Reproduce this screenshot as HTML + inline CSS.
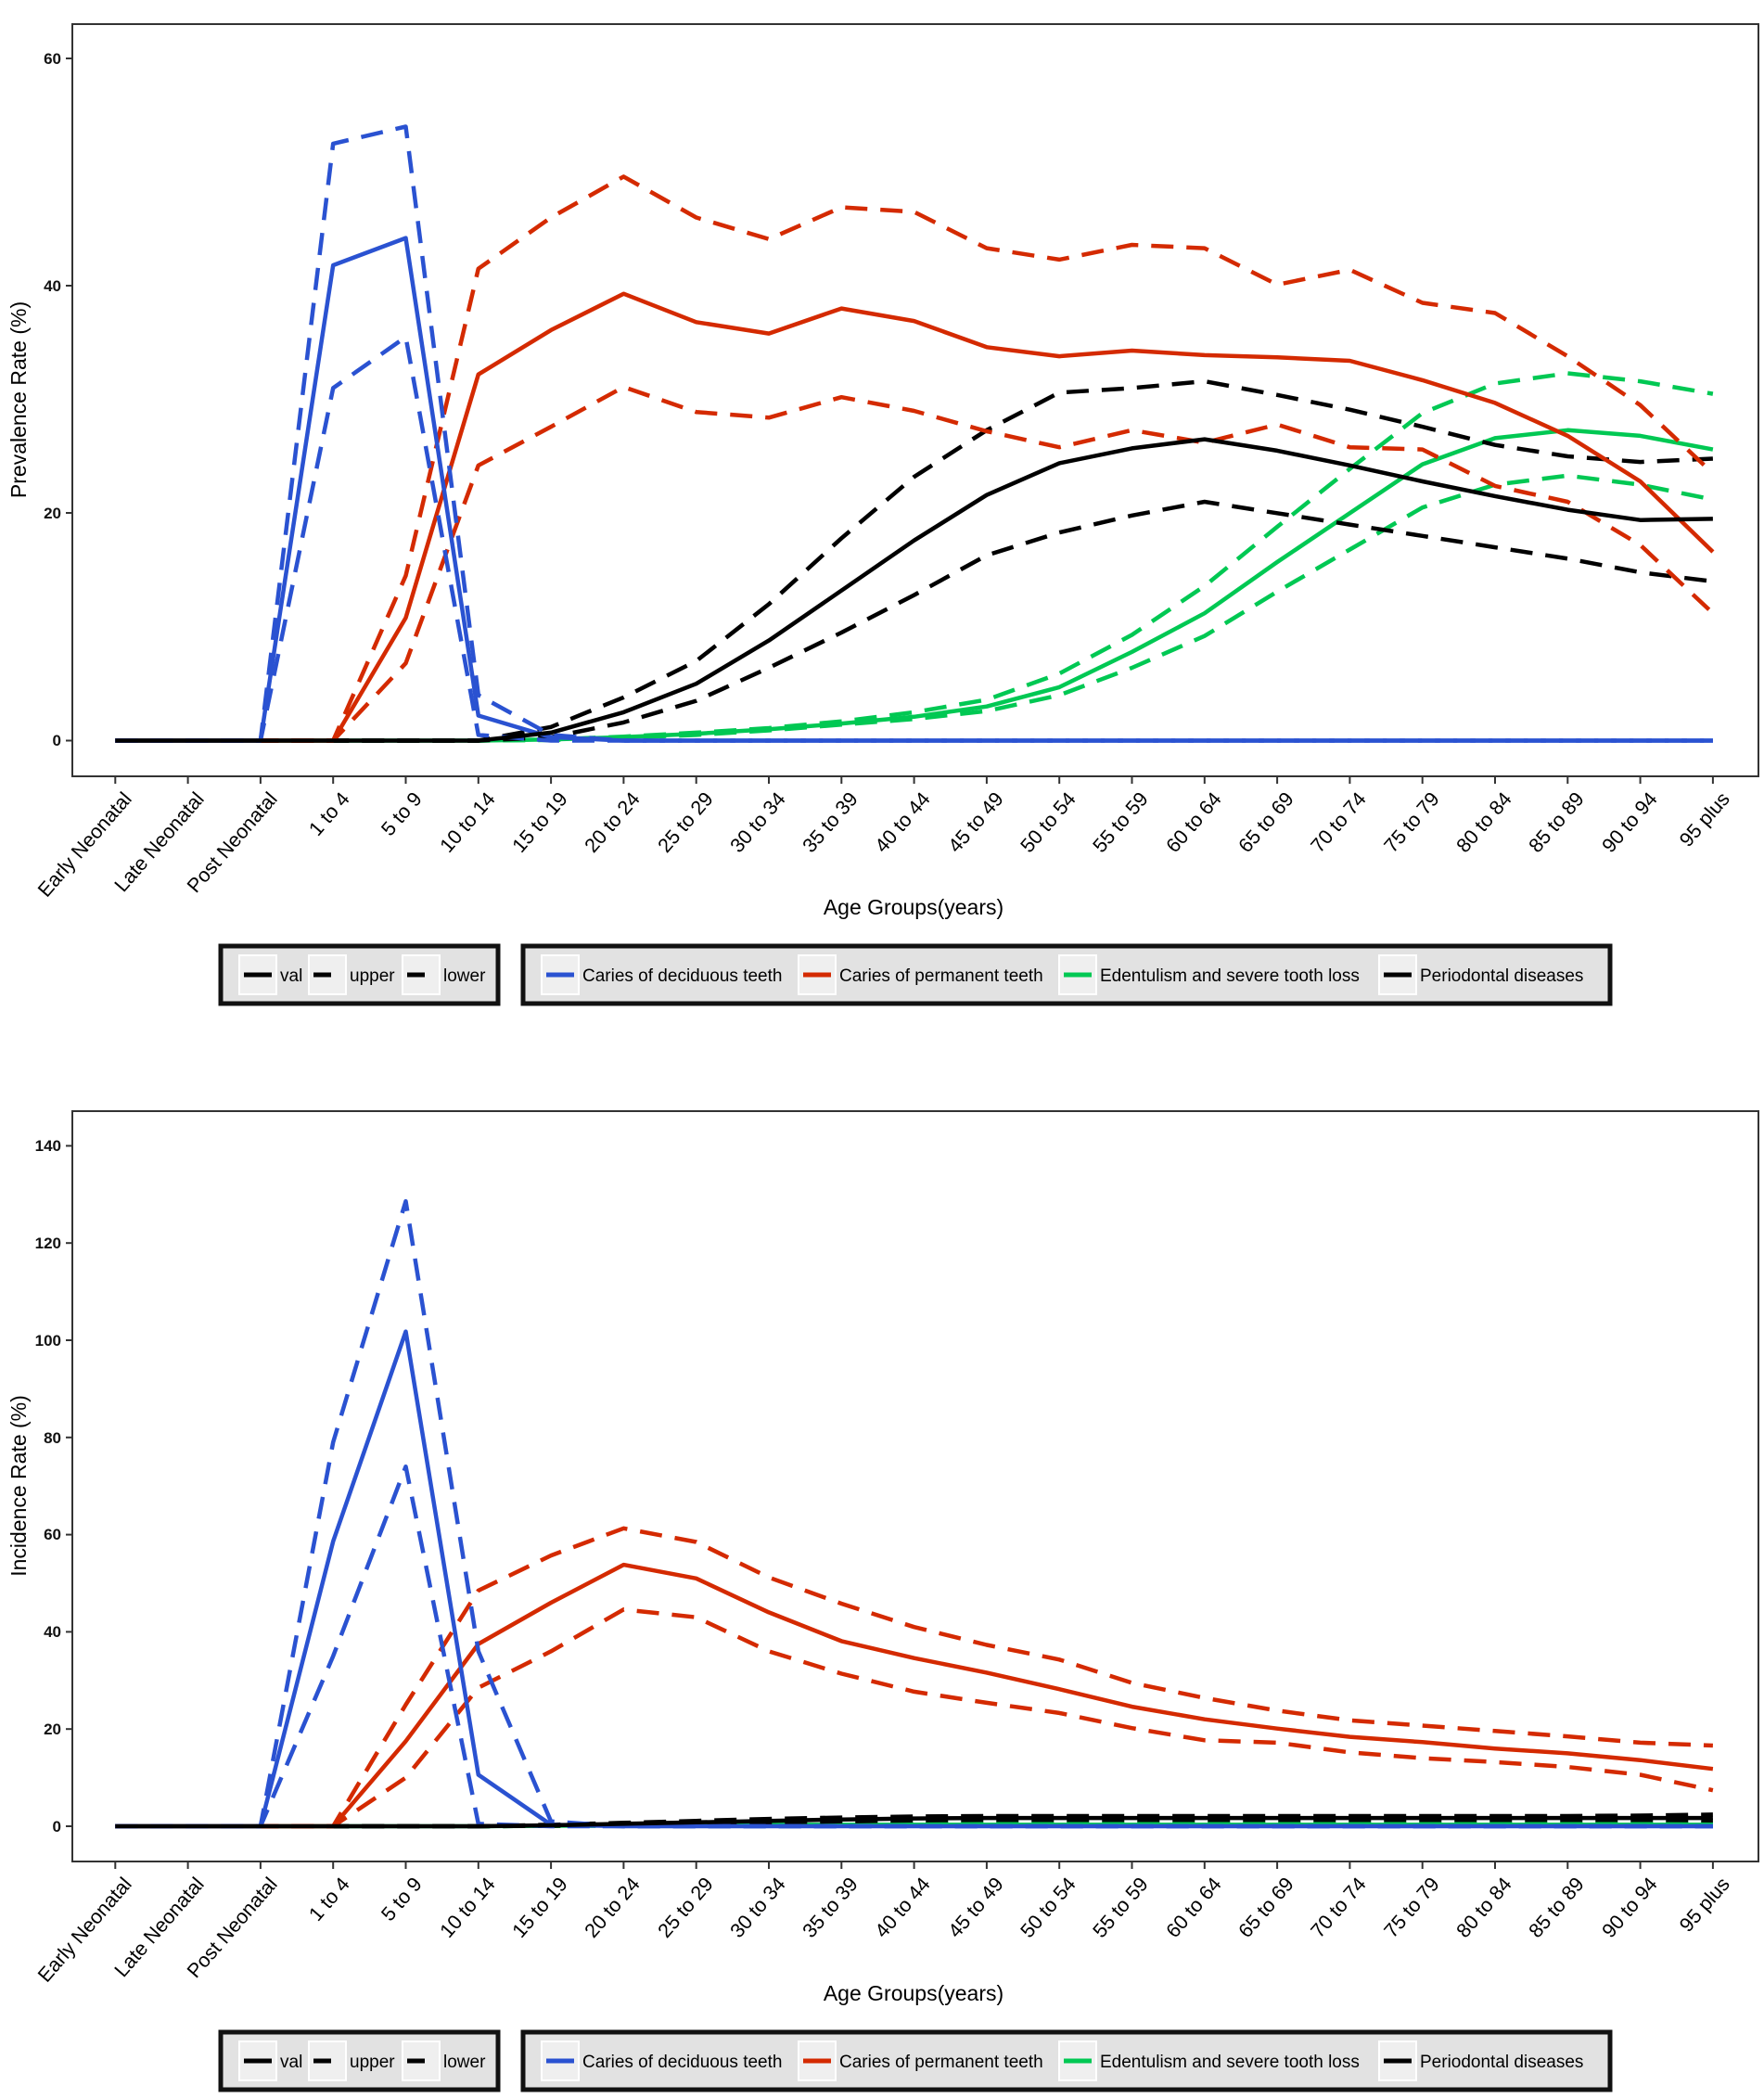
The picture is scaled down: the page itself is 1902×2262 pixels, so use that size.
<!DOCTYPE html>
<html><head><meta charset="utf-8"><style>
html,body{margin:0;padding:0;background:#fff;}
svg{display:block;font-family:"Liberation Sans",Arial,sans-serif;}
</style></head><body>
<svg id="s" width="1902" height="2262" viewBox="0 0 1902 2262" xmlns="http://www.w3.org/2000/svg">
<rect width="1902" height="2262" fill="#fff"/>
<rect x="78" y="26" width="1818" height="811" fill="none" stroke="#333" stroke-width="2"/>
<g font-size="17" font-weight="bold" text-anchor="end" fill="#111">
<text x="66" y="69">60</text><text x="66" y="314">40</text><text x="66" y="559">20</text><text x="66" y="804">0</text>
</g>
<g stroke="#333" stroke-width="2"><line x1="71" y1="63" x2="78" y2="63"/><line x1="71" y1="308" x2="78" y2="308"/><line x1="71" y1="553" x2="78" y2="553"/><line x1="71" y1="798.5" x2="78" y2="798.5"/></g>
<text x="0" y="0" font-size="23" text-anchor="middle" transform="translate(28,431) rotate(-90)">Prevalence Rate (%)</text>
<text x="985" y="986" font-size="23" text-anchor="middle">Age Groups(years)</text>
<g id="xt1"></g>
<g id="d1"></g>
<rect x="78" y="1198" width="1818" height="809" fill="none" stroke="#333" stroke-width="2"/>
<g font-size="17" font-weight="bold" text-anchor="end" fill="#111">
<text x="66" y="1241">140</text><text x="66" y="1346">120</text><text x="66" y="1451">100</text><text x="66" y="1556">80</text><text x="66" y="1660">60</text><text x="66" y="1765">40</text><text x="66" y="1870">20</text><text x="66" y="1975">0</text>
</g>
<g id="yt2" stroke="#333" stroke-width="2"></g>
<text x="0" y="0" font-size="23" text-anchor="middle" transform="translate(28,1602) rotate(-90)">Incidence Rate (%)</text>
<text x="985" y="2157" font-size="23" text-anchor="middle">Age Groups(years)</text>
<g id="xt2"></g>
<g id="d2"></g>
<g id="leg1">
<rect x="238" y="1020" width="299" height="62" fill="#e2e2e2" stroke="#111" stroke-width="5"/>
<rect x="258" y="1030" width="40" height="42" fill="#efefef" stroke="#fff" stroke-width="2"/>
<line x1="263" y1="1051" x2="293" y2="1051" stroke="#000" stroke-width="5"/>
<text x="302" y="1058" font-size="19">val</text>
<rect x="333" y="1030" width="40" height="42" fill="#efefef" stroke="#fff" stroke-width="2"/>
<line x1="338" y1="1051" x2="357" y2="1051" stroke="#000" stroke-width="5"/>
<text x="377" y="1058" font-size="19">upper</text>
<rect x="434" y="1030" width="40" height="42" fill="#efefef" stroke="#fff" stroke-width="2"/>
<line x1="439" y1="1051" x2="458" y2="1051" stroke="#000" stroke-width="5"/>
<text x="478" y="1058" font-size="19">lower</text>
<rect x="564" y="1020" width="1172" height="62" fill="#e2e2e2" stroke="#111" stroke-width="5"/>
<rect x="584" y="1030" width="40" height="42" fill="#efefef" stroke="#fff" stroke-width="2"/>
<line x1="589" y1="1051" x2="619" y2="1051" stroke="#2a52d1" stroke-width="5"/>
<text x="628" y="1058" font-size="19">Caries of deciduous teeth</text>
<rect x="861" y="1030" width="40" height="42" fill="#efefef" stroke="#fff" stroke-width="2"/>
<line x1="866" y1="1051" x2="896" y2="1051" stroke="#d42a00" stroke-width="5"/>
<text x="905" y="1058" font-size="19">Caries of permanent teeth</text>
<rect x="1142" y="1030" width="40" height="42" fill="#efefef" stroke="#fff" stroke-width="2"/>
<line x1="1147" y1="1051" x2="1177" y2="1051" stroke="#00c853" stroke-width="5"/>
<text x="1186" y="1058" font-size="19">Edentulism and severe tooth loss</text>
<rect x="1487" y="1030" width="40" height="42" fill="#efefef" stroke="#fff" stroke-width="2"/>
<line x1="1492" y1="1051" x2="1522" y2="1051" stroke="#000" stroke-width="5"/>
<text x="1531" y="1058" font-size="19">Periodontal diseases</text>
</g>
<g transform="translate(0,1171)">
<rect x="238" y="1020" width="299" height="62" fill="#e2e2e2" stroke="#111" stroke-width="5"/>
<rect x="258" y="1030" width="40" height="42" fill="#efefef" stroke="#fff" stroke-width="2"/>
<line x1="263" y1="1051" x2="293" y2="1051" stroke="#000" stroke-width="5"/>
<text x="302" y="1058" font-size="19">val</text>
<rect x="333" y="1030" width="40" height="42" fill="#efefef" stroke="#fff" stroke-width="2"/>
<line x1="338" y1="1051" x2="357" y2="1051" stroke="#000" stroke-width="5"/>
<text x="377" y="1058" font-size="19">upper</text>
<rect x="434" y="1030" width="40" height="42" fill="#efefef" stroke="#fff" stroke-width="2"/>
<line x1="439" y1="1051" x2="458" y2="1051" stroke="#000" stroke-width="5"/>
<text x="478" y="1058" font-size="19">lower</text>
<rect x="564" y="1020" width="1172" height="62" fill="#e2e2e2" stroke="#111" stroke-width="5"/>
<rect x="584" y="1030" width="40" height="42" fill="#efefef" stroke="#fff" stroke-width="2"/>
<line x1="589" y1="1051" x2="619" y2="1051" stroke="#2a52d1" stroke-width="5"/>
<text x="628" y="1058" font-size="19">Caries of deciduous teeth</text>
<rect x="861" y="1030" width="40" height="42" fill="#efefef" stroke="#fff" stroke-width="2"/>
<line x1="866" y1="1051" x2="896" y2="1051" stroke="#d42a00" stroke-width="5"/>
<text x="905" y="1058" font-size="19">Caries of permanent teeth</text>
<rect x="1142" y="1030" width="40" height="42" fill="#efefef" stroke="#fff" stroke-width="2"/>
<line x1="1147" y1="1051" x2="1177" y2="1051" stroke="#00c853" stroke-width="5"/>
<text x="1186" y="1058" font-size="19">Edentulism and severe tooth loss</text>
<rect x="1487" y="1030" width="40" height="42" fill="#efefef" stroke="#fff" stroke-width="2"/>
<line x1="1492" y1="1051" x2="1522" y2="1051" stroke="#000" stroke-width="5"/>
<text x="1531" y="1058" font-size="19">Periodontal diseases</text>
</g>
<g font-size="21.5" text-anchor="end">
<text transform="translate(143,862) rotate(-49)">Early Neonatal</text>
<text transform="translate(221,862) rotate(-49)">Late Neonatal</text>
<text transform="translate(300,862) rotate(-49)">Post Neonatal</text>
<text transform="translate(378,862) rotate(-49)">1 to 4</text>
<text transform="translate(456,862) rotate(-49)">5 to 9</text>
<text transform="translate(535,862) rotate(-49)">10 to 14</text>
<text transform="translate(613,862) rotate(-49)">15 to 19</text>
<text transform="translate(691,862) rotate(-49)">20 to 24</text>
<text transform="translate(770,862) rotate(-49)">25 to 29</text>
<text transform="translate(848,862) rotate(-49)">30 to 34</text>
<text transform="translate(926,862) rotate(-49)">35 to 39</text>
<text transform="translate(1004,862) rotate(-49)">40 to 44</text>
<text transform="translate(1083,862) rotate(-49)">45 to 49</text>
<text transform="translate(1161,862) rotate(-49)">50 to 54</text>
<text transform="translate(1239,862) rotate(-49)">55 to 59</text>
<text transform="translate(1318,862) rotate(-49)">60 to 64</text>
<text transform="translate(1396,862) rotate(-49)">65 to 69</text>
<text transform="translate(1474,862) rotate(-49)">70 to 74</text>
<text transform="translate(1553,862) rotate(-49)">75 to 79</text>
<text transform="translate(1631,862) rotate(-49)">80 to 84</text>
<text transform="translate(1709,862) rotate(-49)">85 to 89</text>
<text transform="translate(1788,862) rotate(-49)">90 to 94</text>
<text transform="translate(1866,862) rotate(-49)">95 plus</text>
</g>
<g font-size="21.5" text-anchor="end" transform="translate(0,1170)">
<text transform="translate(143,862) rotate(-49)">Early Neonatal</text>
<text transform="translate(221,862) rotate(-49)">Late Neonatal</text>
<text transform="translate(300,862) rotate(-49)">Post Neonatal</text>
<text transform="translate(378,862) rotate(-49)">1 to 4</text>
<text transform="translate(456,862) rotate(-49)">5 to 9</text>
<text transform="translate(535,862) rotate(-49)">10 to 14</text>
<text transform="translate(613,862) rotate(-49)">15 to 19</text>
<text transform="translate(691,862) rotate(-49)">20 to 24</text>
<text transform="translate(770,862) rotate(-49)">25 to 29</text>
<text transform="translate(848,862) rotate(-49)">30 to 34</text>
<text transform="translate(926,862) rotate(-49)">35 to 39</text>
<text transform="translate(1004,862) rotate(-49)">40 to 44</text>
<text transform="translate(1083,862) rotate(-49)">45 to 49</text>
<text transform="translate(1161,862) rotate(-49)">50 to 54</text>
<text transform="translate(1239,862) rotate(-49)">55 to 59</text>
<text transform="translate(1318,862) rotate(-49)">60 to 64</text>
<text transform="translate(1396,862) rotate(-49)">65 to 69</text>
<text transform="translate(1474,862) rotate(-49)">70 to 74</text>
<text transform="translate(1553,862) rotate(-49)">75 to 79</text>
<text transform="translate(1631,862) rotate(-49)">80 to 84</text>
<text transform="translate(1709,862) rotate(-49)">85 to 89</text>
<text transform="translate(1788,862) rotate(-49)">90 to 94</text>
<text transform="translate(1866,862) rotate(-49)">95 plus</text>
</g>
</svg>
<script>
var NS="http://www.w3.org/2000/svg";
function X(i){return 124.3+78.3*i;}
function el(p,n,a){var e=document.createElementNS(NS,n);for(var k in a)e.setAttribute(k,a[k]);document.getElementById(p).appendChild(e);return e;}
for(var i=0;i<23;i++){
 el("xt1","line",{x1:X(i),y1:837,x2:X(i),y2:845,stroke:"#333","stroke-width":2});
 el("xt2","line",{x1:X(i),y1:2007,x2:X(i),y2:2015,stroke:"#333","stroke-width":2});
}
[140,120,100,80,60,40,20,0].forEach(function(v){var y=1969-5.24*v;el("yt2","line",{x1:71,y1:y,x2:78,y2:y});});
function series(g,y0,s,data,col,dash){
 var pts=data.map(function(v,i){return X(i).toFixed(1)+","+(y0-s*v).toFixed(1);}).join(" ");
 var a={points:pts,fill:"none",stroke:col,"stroke-width":4.5,"stroke-linejoin":"round"};
 if(dash)a["stroke-dasharray"]="24 14";
 el(g,"polyline",a);
}
var B="#2a52d1",R="#d42a00",G="#00c853",K="#000";
function pad(a,n){var r=a.slice();while(r.length<23)r.push(n===undefined?r[r.length-1]:n);return r;}
var y1=798.5,s1=12.26;
var P={
 bv:pad([0,0,0,41.8,44.2,2.2,0.3,0],0),
 bu:pad([0,0,0,52.5,54,4,0.5,0],0),
 bl:pad([0,0,0,31,35.5,0.5,0,0],0),
 rv:[0,0,0,0,10.8,32.2,36.1,39.3,36.8,35.8,38.0,36.9,34.6,33.8,34.3,33.9,33.7,33.4,31.7,29.7,26.8,22.8,16.6],
 ru:[0,0,0,0,14.5,41.5,46,49.6,46,44.1,46.9,46.5,43.3,42.3,43.6,43.3,40.1,41.4,38.5,37.6,33.8,29.5,23.5],
 rl:[0,0,0,0,6.8,24.2,27.6,31.1,28.9,28.4,30.2,29.0,27.2,25.8,27.3,26.2,27.8,25.8,25.6,22.4,21.0,17.2,11.2],
 kv:[0,0,0,0,0,0,0.7,2.5,5.0,8.8,13.2,17.6,21.6,24.4,25.7,26.5,25.5,24.2,22.8,21.5,20.3,19.4,19.5],
 ku:[0,0,0,0,0,0,1.2,3.8,7.0,12,17.8,23.2,27.3,30.6,31.0,31.6,30.4,29.1,27.6,26.0,25.0,24.5,24.8],
 kl:[0,0,0,0,0,0,0.3,1.6,3.5,6.4,9.5,12.8,16.3,18.3,19.8,21.0,20.0,19.0,18.0,17.0,16.0,14.8,14.0],
 gv:[0,0,0,0,0,0,0.1,0.3,0.6,1.0,1.5,2.1,3.0,4.7,7.8,11.2,15.7,20.0,24.3,26.6,27.3,26.8,25.6],
 gu:[0,0,0,0,0,0,0.1,0.35,0.7,1.1,1.7,2.5,3.6,5.9,9.3,13.6,18.8,23.9,28.8,31.4,32.3,31.6,30.5],
 gl:[0,0,0,0,0,0,0.05,0.25,0.5,0.9,1.4,1.9,2.6,4.0,6.4,9.2,13.1,16.8,20.5,22.5,23.3,22.5,21.2]
};
function draw(g,y0,s,D){
 series(g,y0,s,D.gu,G,1);series(g,y0,s,D.gl,G,1);series(g,y0,s,D.gv,G,0);
 series(g,y0,s,D.ku,K,1);series(g,y0,s,D.kl,K,1);
 series(g,y0,s,D.ru,R,1);series(g,y0,s,D.rl,R,1);series(g,y0,s,D.rv,R,0);
 series(g,y0,s,D.bu,B,1);series(g,y0,s,D.bl,B,1);series(g,y0,s,D.bv,B,0);
 series(g,y0,s,D.kv,K,0);
}
draw("d1",y1,s1,P);
var y2=1969,s2=5.24;
var I={
 bv:pad([0,0,0,58.6,101.8,10.6,0.3,0],0),
 bu:pad([0,0,0,79,128.6,36,1,0],0),
 bl:pad([0,0,0,35,74,0.5,0,0],0),
 rv:[0,0,0,0,17.5,37.5,46,53.8,51,44,38.1,34.6,31.6,28.2,24.6,22,20.1,18.4,17.3,16,15,13.6,11.8],
 ru:[0,0,0,0,25,48.5,55.7,61.3,58.5,51.2,45.8,41,37.3,34.3,29.5,26.4,23.8,21.8,20.7,19.6,18.5,17.2,16.6],
 rl:[0,0,0,0,10,28.5,36,44.6,43,36,31.4,27.7,25.4,23.3,20.2,17.7,17.2,15.2,14,13.2,12.2,10.6,7.4],
 kv:[0,0,0,0,0,0,0.2,0.5,0.8,1.1,1.4,1.6,1.7,1.7,1.7,1.7,1.7,1.7,1.7,1.7,1.7,1.7,1.7],
 ku:[0,0,0,0,0,0,0.3,0.7,1.1,1.5,1.8,2.0,2.1,2.1,2.1,2.1,2.1,2.1,2.1,2.1,2.1,2.2,2.4],
 kl:[0,0,0,0,0,0,0.1,0.3,0.5,0.8,1.0,1.2,1.3,1.3,1.3,1.3,1.3,1.3,1.3,1.3,1.3,1.3,1.2],
 gv:pad([0,0,0,0,0,0,0.1,0.2,0.3],0.3),
 gu:pad([0,0,0,0,0,0,0.1,0.3,0.5],0.6),
 gl:pad([0,0,0,0,0,0,0.05,0.1,0.2],0.2)
};
draw("d2",y2,s2,I);
</script>
</body></html>
